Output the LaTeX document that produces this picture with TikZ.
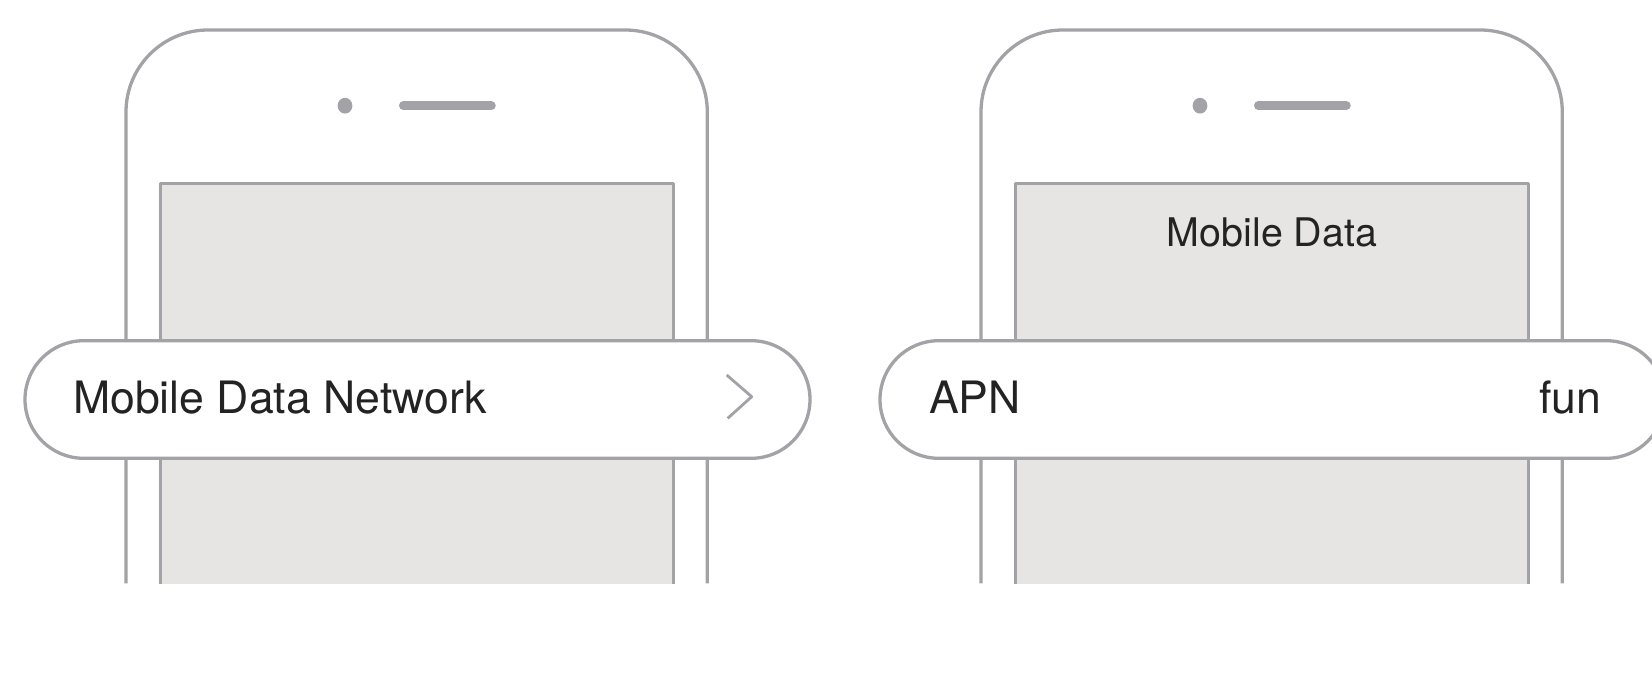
\documentclass[tikz,border=0pt]{standalone}
\usepackage{fontspec}
\setmainfont{TeX Gyre Heros}
\definecolor{edgegray}{RGB}{163,163,167}
\definecolor{scrgray}{RGB}{230,229,227}
\definecolor{ink}{RGB}{35,35,35}
\tikzset{
  outline/.style={draw=edgegray, line width=3.3pt},
  screenline/.style={draw=edgegray, line width=2.7pt},
  lbl/.style={text=ink, inner sep=0pt, font=\fontsize{44.6}{45}\selectfont},
  lblsmall/.style={text=ink, inner sep=0pt, font=\fontsize{39.4}{40}\selectfont},
}
\begin{document}
\begin{tikzpicture}[x=1pt,y=-1pt,line join=round]
\useasboundingbox (0,0) rectangle (1652,680);
\clip (0,0) rectangle (1652,680);
\foreach \dx in {0,855} {
  \begin{scope}[xshift=\dx pt]
    \draw[outline, rounded corners=82pt] (126,583.3) -- (126,30) -- (707.3,30) -- (707.3,583.3);
    \fill[edgegray] (345,105.7) ellipse (7.4pt and 7.9pt);
    \draw[edgegray, line width=8.7pt, line cap=round] (403.3,105.7) -- (491.4,105.7);
    \fill[scrgray] (160.7,183.3) rectangle (673.3,584);
    \draw[screenline] (160.7,584) -- (160.7,183.3) -- (673.3,183.3) -- (673.3,584);
    \draw[outline, fill=white, rounded corners=58.7pt] (25,340.7) rectangle (810,458.3);
  \end{scope}
}
\node[lbl, anchor=base west] (net) at (73,413.3) {Mobile Data Network};
\coordinate (chA) at (726.7,375);
\coordinate (chB) at (751.7,396.7);
\coordinate (chC) at (727.7,418.3);
\draw[edgegray, line width=2.8pt] (chA) -- (chB) -- (chC);
\node[lblsmall, anchor=base] (title) at (1272,246.7) {Mobile Data};
\node[lbl, anchor=base west] (apn) at (929,413.3) {APN};
\node[lbl, anchor=base east] (fun) at (1601.7,413.3) {fun};
\end{tikzpicture}
\end{document}
